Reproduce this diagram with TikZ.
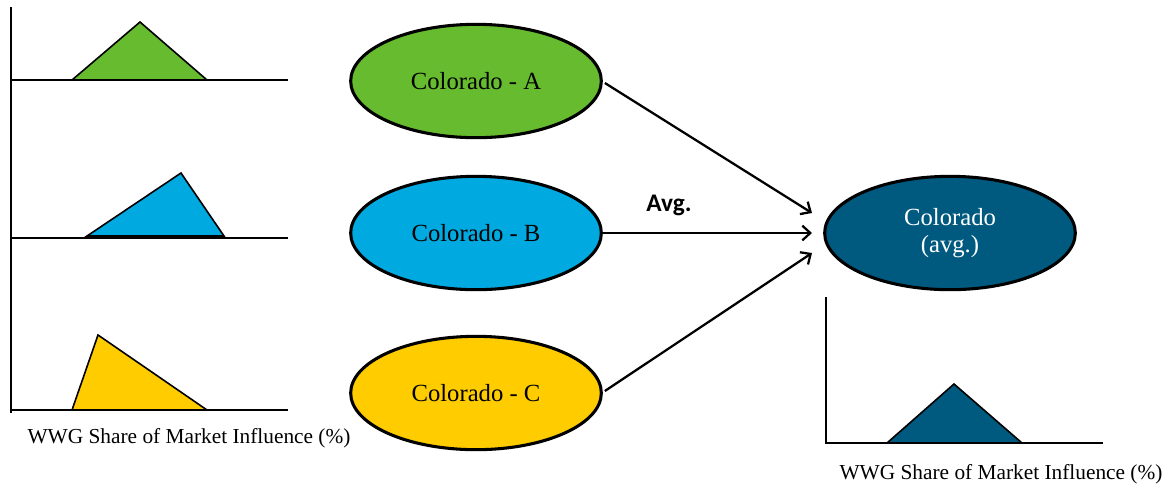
\documentclass[tikz,border=0pt]{standalone}
\usepackage{fontspec}
\setmainfont{Liberation Serif}
\newfontfamily\calibri{Carlito}
\usetikzlibrary{shapes.geometric,arrows.meta}
\definecolor{cgreen}{RGB}{102,187,46}
\definecolor{cblue}{RGB}{0,169,224}
\definecolor{cyellow}{RGB}{255,204,0}
\definecolor{cdark}{RGB}{0,90,128}
\tikzset{
  axis/.style={line width=1.6pt,black},
  tri/.style={line width=1.2pt,black,line join=miter},
  oval/.style={ellipse,draw=black,line width=2.3pt,minimum width=188pt,minimum height=85pt,inner sep=0pt,font=\fontsize{18.5}{21}\selectfont},
  conn/.style={line width=1.7pt,-{Straight Barb[length=6pt,width=11pt,line width=1.7pt]}},
  axlabel/.style={font=\fontsize{16}{18}\selectfont,inner sep=0pt}
}
\begin{document}
\begin{tikzpicture}[x=0.75pt,y=-0.75pt]
\useasboundingbox (0,0) rectangle (1171,487);
% left axes
\draw[axis] (11,7) -- (11,413);
\draw[axis] (10,80) -- (288,80);
\draw[axis] (10,238) -- (288,238);
\draw[axis] (10,410) -- (288,410);
\draw[tri,fill=cgreen] (72,80) -- (140,22) -- (207,80) -- cycle;
\draw[tri,fill=cblue] (87,236) -- (181,173) -- (224,236) -- cycle;
\draw[tri,fill=cyellow] (72,410) -- (98,335) -- (207,410) -- cycle;
\node[axlabel] (lbl1) at (189,438) {WWG Share of Market Influence (\%)};
% right axes
\draw[axis] (826,297) -- (826,444);
\draw[axis] (825,443) -- (1103,443);
\draw[tri,fill=cdark] (887,443) -- (954,384) -- (1022,443) -- cycle;
\node[axlabel] (lbl2) at (1001,474) {WWG Share of Market Influence (\%)};
% ellipses
\node[oval,fill=cgreen] (A) at (476,81) {Colorado - A};
\node[oval,fill=cblue] (B) at (476,233) {Colorado - B};
\node[oval,fill=cyellow] (C) at (476,393) {Colorado - C};
\node[oval,fill=cdark,text=white,align=center] (avg) at (950,233) {Colorado\\[-1pt](avg.)};
% arrows
\coordinate (ta) at (812,213);
\coordinate (tb) at (812,233);
\coordinate (tc) at (812,253);
\draw[conn] (A.east) ++(2,2) -- (ta);
\draw[conn] (B.east) -- (tb);
\draw[conn] (C.east) ++(2,-2) -- (tc);
\node[font=\calibri\bfseries\fontsize{19}{22}\selectfont] (avglbl) at (669,205) {Avg.};
\end{tikzpicture}
\end{document}
